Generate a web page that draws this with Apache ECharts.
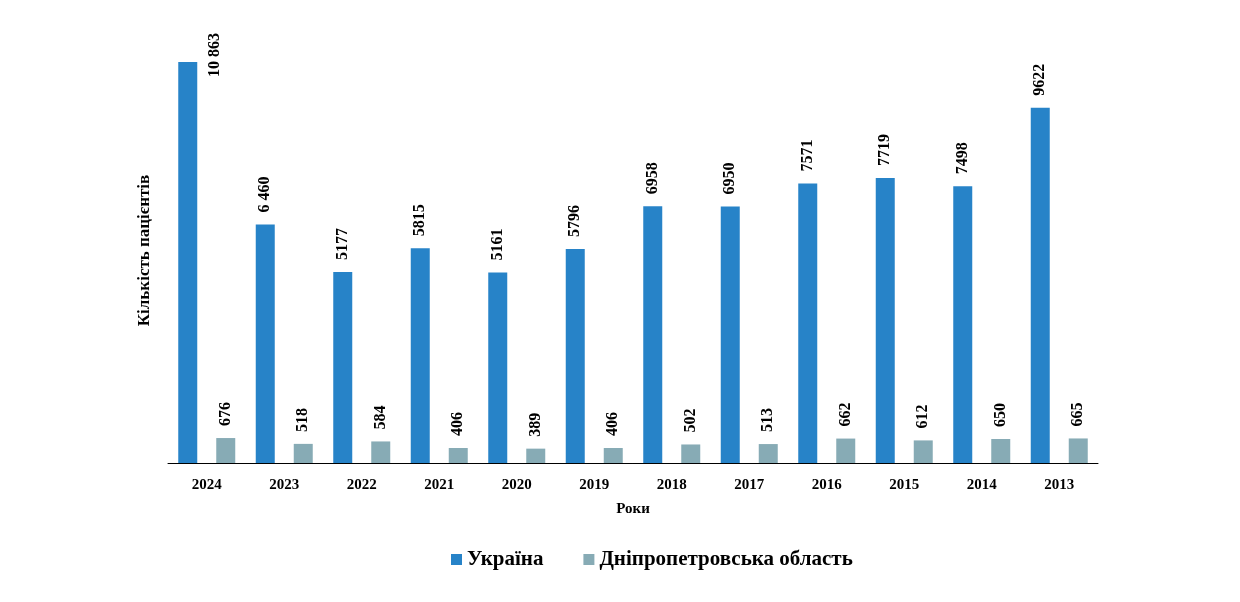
<!DOCTYPE html>
<html><head><meta charset="utf-8">
<script src="https://cdn.jsdelivr.net/npm/echarts@6/dist/echarts.min.js"></script>
<style>html,body{margin:0;padding:0;background:#fff}#c{width:1240px;height:602px}</style>
</head><body><div id="c"></div>
<script>
const categories = ['2024','2023','2022','2021','2020','2019','2018','2017','2016','2015','2014','2013'];
const ukraine = [10863, 6460, 5177, 5815, 5161, 5796, 6958, 6950, 7571, 7719, 7498, 9622];
const dnipro = [676, 518, 584, 406, 389, 406, 502, 513, 662, 612, 650, 665];
const ukraineLabels = ['10 863','6 460','5177','5815','5161','5796','6958','6950','7571','7719','7498','9622'];
const seriesNames = ['Україна', 'Дніпропетровська область'];

const FONT = '"Liberation Serif", "Times New Roman", serif';
const chart = echarts.init(document.getElementById('c'));
const labelBase = {show: true, position: 'top', distance: 12, rotate: 90, align: 'left', verticalAlign: 'middle',
  fontFamily: FONT, fontWeight: 'bold', fontSize: 16, color: '#000'};

const ukData = ukraine.map((v, i) => {
  const d = {value: v, label: {formatter: ukraineLabels[i]}};
  if (i === 0) d.label.position = [37, 15];
  return d;
});

chart.setOption({
  animation: false,
  grid: {left: 168, right: 142, top: 20, bottom: 139},
  legend: {
    top: 544, left: 446, itemWidth: 11, itemHeight: 11, itemGap: 40,
    icon: 'rect',
    textStyle: {fontFamily: FONT, fontWeight: 'bold', fontSize: 21, color: '#000'},
    data: seriesNames
  },
  xAxis: {
    type: 'category', data: categories,
    name: 'Роки', nameLocation: 'middle', nameGap: 39,
    nameTextStyle: {fontFamily: FONT, fontWeight: 'bold', fontSize: 15, color: '#000'},
    axisLine: {lineStyle: {color: '#000', width: 1}},
    axisTick: {show: false},
    axisLabel: {fontFamily: FONT, fontWeight: 'bold', fontSize: 15, color: '#000', margin: 15}
  },
  yAxis: {
    type: 'value', min: 0, max: 12000,
    name: 'Кількість пацієнтів', nameLocation: 'middle', nameGap: 15, nameRotate: 90,
    nameTextStyle: {fontFamily: FONT, fontWeight: 'bold', fontSize: 17, color: '#000', padding: [0, 18, 0, 0]},
    axisLine: {show: false}, axisTick: {show: false}, axisLabel: {show: false}, splitLine: {show: false}
  },
  series: [
    {name: seriesNames[0], type: 'bar', data: ukData, barWidth: 19, barGap: '100%',
     itemStyle: {color: '#2783c8'}, label: labelBase},
    {name: seriesNames[1], type: 'bar', data: dnipro, barWidth: 19,
     itemStyle: {color: '#87abb5'}, label: labelBase}
  ]
});
</script></body></html>
